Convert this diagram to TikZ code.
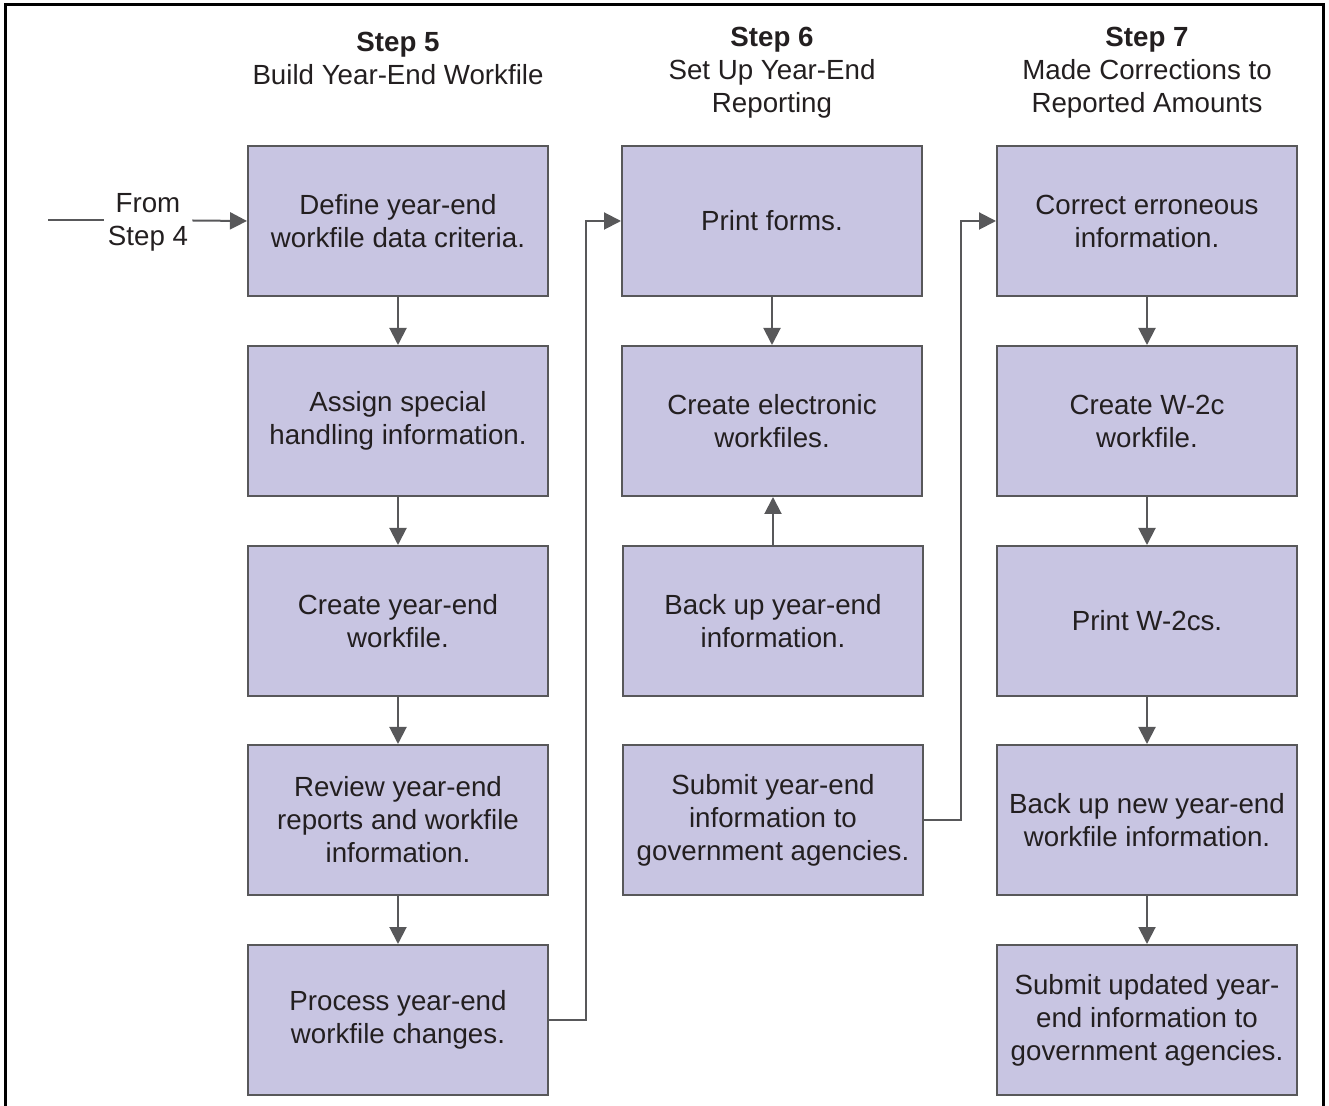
\documentclass[tikz,border=0pt]{standalone}
\usepackage{fontspec}
\setmainfont{Liberation Sans}
\usetikzlibrary{arrows.meta,positioning}
\definecolor{boxfill}{HTML}{C8C5E2}
\definecolor{linegray}{HTML}{58585A}
\definecolor{txt}{HTML}{231F20}
\begin{document}
\begin{tikzpicture}[x=0.5pt,y=-0.5pt]
	\tikzstyle{every node}+=[inner sep=0pt, text=txt, align=center, font=\fontsize{13.85}{16.5}\selectfont]
	\tikzstyle{task}=[draw=linegray, line width=1pt, fill=boxfill, minimum width=150pt, minimum height=75pt]
	\tikzstyle{flow}=[draw=linegray, line width=1pt, -{Triangle[length=8.5pt,width=8.5pt]}]
	\useasboundingbox (0,0) rectangle (1329,1106);
	\draw [black, line width=1.5pt] (5,1106) -- (5,5) -- (1323,5) -- (1323,1106);
	\node (step5) at (398,58.5) {\textbf{Step 5}\\Build Year-End Workfile};
	\node (step6) at (772,72.5) {\textbf{Step 6}\\Set Up Year-End\\Reporting};
	\node (step7) at (1147,72.5) {\textbf{Step 7}\\Made Corrections to\\Reported Amounts};
	\node [task] (define) at (398,221) {Define year-end\\workfile data criteria.};
	\node [task] (assign) at (398,421) {Assign special\\handling information.};
	\node [task] (createwf) at (398,621) {Create year-end\\workfile.};
	\node [task] (review) at (398,820) {Review year-end\\reports and workfile\\information.};
	\node [task] (process) at (398,1020) {Process year-end\\workfile changes.};
	\node [task] (print) at (772,221) {Print forms.};
	\node [task] (electronic) at (772,421) {Create electronic\\workfiles.};
	\node [task] (backup) at (773,621) {Back up year-end\\information.};
	\node [task] (submit) at (773,820) {Submit year-end\\information to\\government agencies.};
	\node [task] (correct) at (1147,221) {Correct erroneous\\information.};
	\node [task] (wtwoc) at (1147,421) {Create W-2c\\workfile.};
	\node [task] (printw) at (1147,621) {Print W-2cs.};
	\node [task] (backupnew) at (1147,820) {Back up new year-end\\workfile information.};
	\node [task] (submitnew) at (1147,1020) {Submit updated year-\\end information to\\government agencies.};
	\node [inner xsep=2pt] (from) at (148,222) {From\\Step 4};
	\coordinate (start) at (48,220.5);
	\draw [linegray, line width=1pt] (start) -- (start -| from.west);
	\draw [flow] (start -| from.east) -- (define.west);
	\draw [flow] (define) -- (assign);
	\draw [flow] (assign) -- (createwf);
	\draw [flow] (createwf) -- (review);
	\draw [flow] (review) -- (process);
	\draw [flow] (process.east) -- ++(37,0) |- (print.west);
	\draw [flow] (print) -- (electronic);
	\draw [flow] (backup.north) -- (backup.north |- electronic.south);
	\draw [flow] (submit.east) -- ++(37,0) |- (correct.west);
	\draw [flow] (correct) -- (wtwoc);
	\draw [flow] (wtwoc) -- (printw);
	\draw [flow] (printw) -- (backupnew);
	\draw [flow] (backupnew) -- (submitnew);
\end{tikzpicture}
\end{document}
